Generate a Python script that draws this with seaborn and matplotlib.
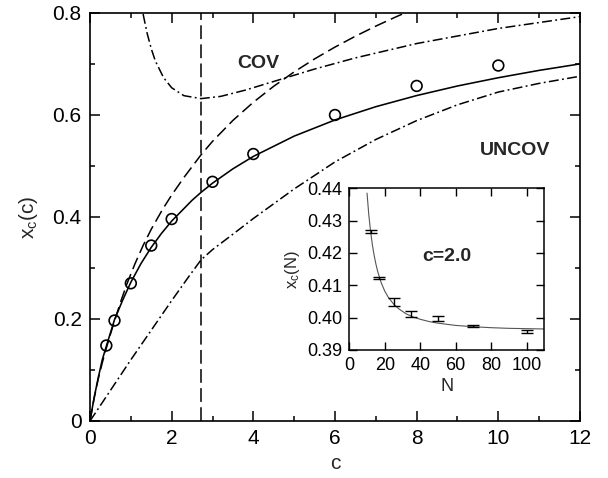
import numpy as np
import pandas as pd
import matplotlib
matplotlib.use("Agg")
import matplotlib.pyplot as plt
import seaborn as sns

# ---- main panel data ----
sim_c = [0.4, 0.6, 1.0, 1.5, 2.0, 3.0, 4.0, 6.0, 8.0, 10.0]
sim_x = [0.148, 0.197, 0.270, 0.344, 0.396, 0.469, 0.5235, 0.600, 0.657, 0.697]

theory_c = [0.0, 0.1, 0.2, 0.3, 0.4, 0.6, 0.8, 1.0, 1.25, 1.5, 1.75, 2.0, 2.5, 2.718,
            3.0, 3.5, 4.0, 5.0, 6.0, 7.0, 8.0, 9.0, 10.0, 11.0, 12.0]
theory_x = [0.0, 0.0455, 0.0841, 0.1200, 0.1467, 0.1986, 0.2369, 0.2720, 0.3089, 0.3405,
            0.3678, 0.3920, 0.4328, 0.4482, 0.4663, 0.4945, 0.5188, 0.5586, 0.5903, 0.6163,
            0.6381, 0.6569, 0.6731, 0.6875, 0.7002]

dash_c = [0.0, 0.1, 0.2, 0.3, 0.4, 0.5, 0.6, 0.75, 0.9, 1.1, 1.3, 1.5, 1.77, 2.0, 2.3,
          2.72, 3.0, 3.5, 4.0, 4.5, 5.0, 5.5, 6.0, 6.5, 7.0, 7.5, 7.8]
dash_x = [0.0, 0.044, 0.082, 0.114, 0.143, 0.170, 0.196, 0.2335, 0.268, 0.308, 0.344,
          0.376, 0.414, 0.443, 0.4775, 0.522, 0.5483, 0.5894, 0.6250, 0.6564, 0.6845,
          0.7100, 0.7332, 0.7545, 0.7743, 0.7927, 0.8031]

upper_c = [1.3, 1.4, 1.5, 1.6, 1.8, 2.0, 2.3, 2.72, 3.2, 3.8, 4.5, 5.5, 6.5, 8.0, 10.0, 12.0]
upper_x = [0.798, 0.760, 0.730, 0.706, 0.6735, 0.6534, 0.6379, 0.6321, 0.6365, 0.6487,
           0.6658, 0.6901, 0.712, 0.7401, 0.7697, 0.7929]

lower_c = [0.0, 0.5, 1.0, 1.5, 2.0, 2.4, 2.72, 3.0, 3.43, 4.0, 5.0, 6.0, 7.0, 8.0, 9.0,
           10.0, 11.0, 12.0]
lower_x = [0.0, 0.060, 0.120, 0.178, 0.236, 0.281, 0.316, 0.336, 0.362, 0.397, 0.455,
           0.508, 0.552, 0.589, 0.620, 0.645, 0.662, 0.676]

c_e = 2.718

# ---- inset data ----
fss_N = [12, 17, 25, 35, 50, 70, 100]
fss_x = [0.4267, 0.4122, 0.4049, 0.4012, 0.3997, 0.3974, 0.3958]
fss_err = [0.0005, 0.0004, 0.0012, 0.0009, 0.0008, 0.0004, 0.0005]

fit_N = [10, 11, 12, 13, 14, 15, 16, 18, 20, 22, 25, 28, 32, 36, 40, 45, 50, 60, 70,
         80, 90, 100, 110]
fit_x = [0.4385, 0.4318, 0.4267, 0.4226, 0.4193, 0.4166, 0.4143, 0.4108, 0.4082, 0.4063,
         0.4042, 0.4027, 0.4012, 0.4002, 0.3995, 0.3988, 0.3983, 0.3976, 0.3972, 0.3969,
         0.3967, 0.3966, 0.3965]

sns.set_theme(style="ticks")
plt.rcParams["font.family"] = ["Liberation Sans", "DejaVu Sans"]
plt.rcParams["mathtext.fontset"] = "custom"
plt.rcParams["mathtext.rm"] = "Liberation Sans"
plt.rcParams["mathtext.it"] = "Liberation Sans"

fig = plt.figure(figsize=(6.08, 4.78), dpi=100)
ax = fig.add_axes([90 / 608, 1 - 421 / 478, 490 / 608, 408 / 478])

lw = 1.1
sns.lineplot(x=theory_c, y=theory_x, ax=ax, color="black", lw=1.15)
sns.lineplot(x=dash_c, y=dash_x, ax=ax, color="black", lw=lw)
ax.lines[-1].set_dashes((8, 3.5))
sns.lineplot(x=upper_c, y=upper_x, ax=ax, color="black", lw=lw)
ax.lines[-1].set_dashes((6.5, 2.2, 1.2, 2.2))
sns.lineplot(x=lower_c, y=lower_x, ax=ax, color="black", lw=lw)
ax.lines[-1].set_dashes((6.5, 2.2, 1.2, 2.2))
ax.axvline(c_e, color="black", lw=lw, dashes=(9, 3.5))
sns.scatterplot(x=sim_c, y=sim_x, ax=ax, s=60, facecolor="none", edgecolor="black",
                linewidth=1.2, zorder=5)

ax.set_xlim(0, 12)
ax.set_ylim(0, 0.8)
ax.set_xticks([0, 2, 4, 6, 8, 10, 12])
ax.set_xticks([1, 3, 5, 7, 9, 11], minor=True)
ax.set_yticks([0, 0.2, 0.4, 0.6, 0.8])
ax.set_yticklabels(["0", "0.2", "0.4", "0.6", "0.8"])
ax.set_yticks([0.1, 0.3, 0.5, 0.7], minor=True)
ax.tick_params(which="both", direction="in", top=True, right=True, labelsize=15,
               width=1.1, color="black", labelcolor="black")
ax.tick_params(which="major", length=7, pad=6)
ax.tick_params(which="minor", length=3.5)
for s in ax.spines.values():
    s.set_linewidth(1.2)
    s.set_color("black")
ax.set_xlabel("c", fontsize=15, labelpad=4)
ax.set_ylabel(r"x$_\mathregular{c}$(c)", fontsize=15, labelpad=9)

ax.text(4.12, 0.701, "COV", fontsize=14, fontweight="bold", ha="center", va="center")
ax.text(10.41, 0.531, "UNCOV", fontsize=14, fontweight="bold", ha="center", va="center")

# ---- inset ----
ins = fig.add_axes([349.3 / 608, 1 - 350 / 478, 195 / 608, 161.7 / 478])
sns.lineplot(x=fit_N, y=fit_x, ax=ins, color="#555555", lw=0.8)
ins.errorbar(fss_N, fss_x, yerr=fss_err, fmt="none", ecolor="black", elinewidth=1.0,
             capsize=4, capthick=1.0)
ins.set_xlim(0, 110)
ins.set_ylim(0.39, 0.44)
ins.set_xticks([0, 20, 40, 60, 80, 100])
ins.set_yticks([0.39, 0.40, 0.41, 0.42, 0.43, 0.44])
ins.set_yticklabels(["0.39", "0.40", "0.41", "0.42", "0.43", "0.44"])
ins.tick_params(which="both", direction="in", top=True, right=True, labelsize=13,
                length=6, width=1.0, pad=5, color="black", labelcolor="black")
for s in ins.spines.values():
    s.set_linewidth(1.1)
    s.set_color("black")
ins.set_xlabel("N", fontsize=13, labelpad=3)
ins.set_ylabel(r"x$_\mathregular{c}$(N)", fontsize=12, labelpad=4)
ins.text(54.9, 0.4189, "c=2.0", fontsize=14, fontweight="bold", ha="center", va="center")

fig.savefig("out.png", dpi=100)
